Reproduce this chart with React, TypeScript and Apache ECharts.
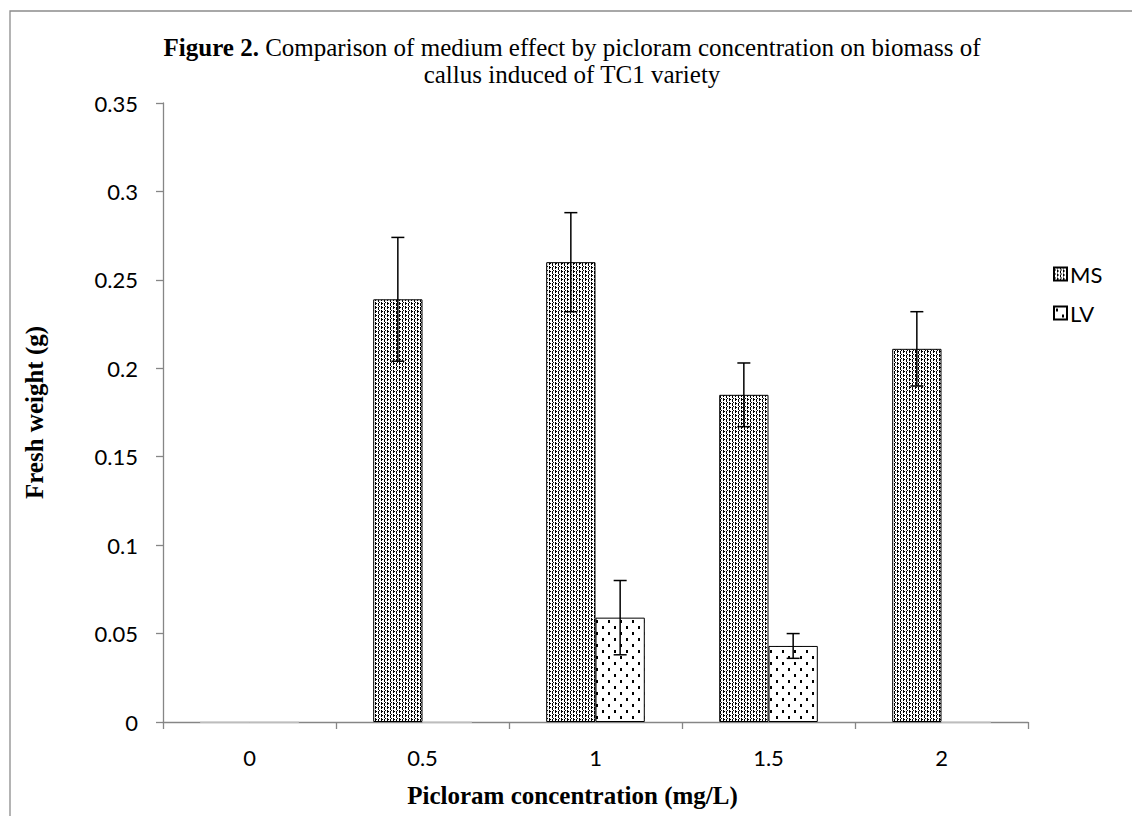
import React, { useEffect, useRef } from "react";
import * as echarts from "echarts";

const categories = ["0", "0.5", "1", "1.5", "2"];
const msValues = [0, 0.239, 0.26, 0.185, 0.211];
const msErrors = [0, 0.035, 0.028, 0.018, 0.021];
const lvValues = [0, 0, 0.059, 0.043, 0];
const lvErrors = [0, 0, 0.021, 0.007, 0];
const seriesNames = ["MS", "LV"];

const SANS = "Lato, 'Open Sans', sans-serif";
const SERIF = "'Liberation Serif', 'Times New Roman', serif";

function makePattern(size: [number, number], cells: [number, number, number, number][]) {
  const c = document.createElement("canvas");
  c.width = size[0];
  c.height = size[1];
  const ctx = c.getContext("2d")!;
  ctx.fillStyle = "#ffffff";
  ctx.fillRect(0, 0, size[0], size[1]);
  ctx.fillStyle = "#000000";
  cells.forEach(([x, y, w, h]) => ctx.fillRect(x, y, w, h));
  return {
    image: c.toDataURL(),
    imageWidth: size[0],
    imageHeight: size[1],
    repeat: "repeat",
  } as any;
}

export default function App() {
  const ref = useRef<HTMLDivElement>(null);
  useEffect(() => {
    if (!ref.current) return;
    const chart = echarts.init(ref.current, null, { renderer: "svg" });

    const msPattern = makePattern([6, 4], [
      [0, 0, 1, 1], [3, 0, 1, 1], [0, 1, 1, 1], [1, 2, 1, 1], [3, 2, 1, 1], [4, 3, 1, 1], [3, 3, 1, 1], [0, 3, 1, 1],
    ]);
    const lvPattern = makePattern([12, 12], [
      [2, 2, 2, 3], [8, 8, 2, 3],
    ]);

    const gapFrac = 0.43;
    const errSeries = (vals: number[], errs: number[], side: number, name: string) => ({
      type: "custom",
      name: name + " error",
      silent: true,
      z: 10,
      data: vals.map((v, i) => [i, v - errs[i], v + errs[i], errs[i]]),
      renderItem: (params: any, api: any) => {
        const err = api.value(3);
        if (!err) return null;
        const band = api.size([1, 0])[0];
        const barW = (band * (1 - gapFrac)) / 2;
        const cx = api.coord([api.value(0), 0])[0] + (side * barW) / 2;
        const lo = api.coord([api.value(0), api.value(1)])[1];
        const hi = api.coord([api.value(0), api.value(2)])[1];
        const cap = 6.5;
        const st = { stroke: "#000", lineWidth: 1.5 };
        return {
          type: "group",
          children: [
            { type: "line", shape: { x1: cx, y1: lo, x2: cx, y2: hi }, style: st },
            { type: "line", shape: { x1: cx - cap, y1: hi, x2: cx + cap, y2: hi }, style: st },
            { type: "line", shape: { x1: cx - cap, y1: lo, x2: cx + cap, y2: lo }, style: st },
          ],
        };
      },
    });

    const barData = (vals: number[]) =>
      vals.map((v) => (v === 0 ? { value: v, itemStyle: { borderColor: "#d0d0d0" } } : v));

    chart.setOption({
      animation: false,
      backgroundColor: "#ffffff",
      graphic: [
        {
          type: "rect",
          shape: { x: 10, y: 11, width: 1400, height: 1000 },
          style: { fill: "none", stroke: "#8c8c8c", lineWidth: 1.3 },
          silent: true,
        },
        {
          type: "text",
          x: 572,
          y: 47,
          style: {
            text: "{b|Figure 2.} Comparison of medium effect by picloram concentration on biomass of",
            rich: { b: { fontWeight: "bold", fontFamily: SERIF, fontSize: 25, fill: "#000" } },
            fontFamily: SERIF,
            fontSize: 25,
            fill: "#000",
            align: "center",
            verticalAlign: "middle",
          },
        },
        {
          type: "text",
          x: 572,
          y: 74,
          style: {
            text: "callus induced of TC1 variety",
            fontFamily: SERIF,
            fontSize: 25,
            fill: "#000",
            align: "center",
            verticalAlign: "middle",
          },
        },
      ],
      legend: {
        orient: "vertical",
        left: 1048,
        top: 258,
        itemGap: 17,
        itemWidth: 13,
        itemHeight: 13,
        icon: "rect",
        data: seriesNames,
        textStyle: { fontFamily: SANS, fontSize: 22, color: "#000", padding: [0, 0, 0, -2] },
      },
      grid: { left: 163, top: 103, width: 865, height: 619, containLabel: false },
      xAxis: {
        type: "category",
        data: categories,
        boundaryGap: true,
        name: "Picloram concentration (mg/L)",
        nameLocation: "middle",
        nameGap: 61,
        nameTextStyle: { fontFamily: SERIF, fontWeight: "bold", fontSize: 25, color: "#000", padding: [0, 46, 0, 0] },
        axisLine: { lineStyle: { color: "#868686", width: 1.3 } },
        axisTick: { show: true, length: 7, alignWithLabel: false, lineStyle: { color: "#868686", width: 1.3 } },
        axisLabel: { fontFamily: SANS, fontSize: 22, color: "#000", margin: 24 },
        splitLine: { show: false },
      },
      yAxis: {
        type: "value",
        min: 0,
        max: 0.35,
        interval: 0.05,
        name: "Fresh weight (g)",
        nameLocation: "middle",
        nameGap: 116,
        nameRotate: 90,
        nameTextStyle: { fontFamily: SERIF, fontWeight: "bold", fontSize: 25, color: "#000" },
        axisLine: { show: true, lineStyle: { color: "#868686", width: 1.3 } },
        axisTick: { show: true, length: 7, lineStyle: { color: "#868686", width: 1.3 } },
        axisLabel: { fontFamily: SANS, fontSize: 22, color: "#000", margin: 25 },
        splitLine: { show: false },
      },
      series: [
        {
          type: "bar",
          name: seriesNames[0],
          data: barData(msValues),
          barGap: "0%",
          barCategoryGap: gapFrac * 100 + "%",
          itemStyle: { color: msPattern, borderColor: "#000", borderWidth: 1 },
        },
        {
          type: "bar",
          name: seriesNames[1],
          data: barData(lvValues),
          barGap: "0%",
          barCategoryGap: gapFrac * 100 + "%",
          itemStyle: { color: lvPattern, borderColor: "#000", borderWidth: 1 },
        },
        errSeries(msValues, msErrors, -1, seriesNames[0]),
        errSeries(lvValues, lvErrors, 1, seriesNames[1]),
      ],
    } as any);
    return () => chart.dispose();
  }, []);
  return (
    <div
      ref={ref}
      style={{ position: "fixed", left: 0, top: 0, width: 1132, height: 816, background: "#fff" }}
    />
  );
}
